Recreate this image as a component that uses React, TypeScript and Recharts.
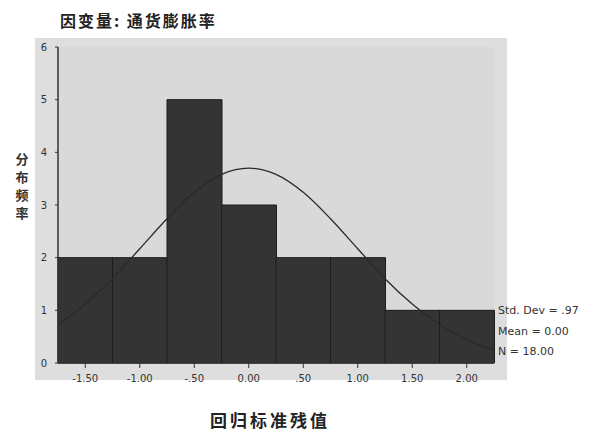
import React from "react";
import { ComposedChart, Bar, Line, XAxis, YAxis, CartesianGrid } from "recharts";

const binLabels = ["-1.50", "-1.00", "-.50", "0.00", ".50", "1.00", "1.50", "2.00"];
const binCounts = [2, 2, 5, 3, 2, 2, 1, 1];
const yTicks = [0, 1, 2, 3, 4, 5, 6];
const curveX = [-1.75, -1.5, -1.25, -1, -0.75, -0.5, -0.25, 0, 0.25, 0.5, 0.75, 1, 1.25, 1.5, 1.75, 2, 2.25];
const curveY = [0.73, 1.12, 1.6, 2.17, 2.74, 3.24, 3.58, 3.7, 3.58, 3.24, 2.74, 2.17, 1.6, 1.12, 0.73, 0.44, 0.25];
const legendLines = ["Std. Dev = .97", "Mean = 0.00", "N = 18.00"];

const barData = binLabels.map((label, i) => ({ label, count: binCounts[i] }));
const curveData = curveX.map((x, i) => ({ x, y: curveY[i] }));

const tickStyle = { fontFamily: "'DejaVu Sans', Verdana, sans-serif", fontSize: 10, fill: "#333" };

export default function App() {
  return (
    <div style={{ position: "absolute", left: 0, top: 0, width: 593, height: 432, background: "#fff", overflow: "hidden" }}>
      <div style={{ position: "absolute", left: 35, top: 38, width: 472, height: 342, background: "#dedede" }} />
      <div
        style={{
          position: "absolute",
          left: 60,
          top: 8,
          fontFamily: "'Noto Sans CJK SC', sans-serif",
          fontWeight: 700,
          fontSize: 16,
          lineHeight: "24px",
          letterSpacing: 2,
          color: "#222",
          whiteSpace: "nowrap",
        }}
      >
        因变量: 通货膨胀率
      </div>
      <div
        style={{
          position: "absolute",
          left: 11,
          top: 150,
          width: 22,
          fontFamily: "'Noto Sans CJK SC', sans-serif",
          fontWeight: 700,
          fontSize: 13,
          lineHeight: "18px",
          color: "#333",
          textAlign: "center",
        }}
      >
        {"分布频率".split("").map((c, i) => (
          <div key={i}>{c}</div>
        ))}
      </div>
      <div
        style={{
          position: "absolute",
          left: 210,
          top: 407,
          fontFamily: "'Noto Sans CJK SC', sans-serif",
          fontWeight: 700,
          fontSize: 17,
          lineHeight: "26px",
          letterSpacing: 3,
          color: "#222",
          whiteSpace: "nowrap",
        }}
      >
        回归标准残值
      </div>
      <div style={{ position: "absolute", left: 0, top: 0 }}>
        <ComposedChart
          width={593}
          height={432}
          data={barData}
          margin={{ top: 47, right: 99, bottom: 44, left: 30 }}
          barCategoryGap={0}
          barGap={0}
        >
          <CartesianGrid horizontal={false} vertical={false} fill="#d9d9d9" />
          <XAxis
            dataKey="label"
            xAxisId="cat"
            interval={0}
            tick={tickStyle}
            tickSize={5}
            tickMargin={7}
            tickLine={{ stroke: "#333" }}
            axisLine={{ stroke: "#333", strokeWidth: 1.5 }}
            height={25}
          />
          <XAxis
            xAxisId="top"
            orientation="top"
            dataKey="label"
            tick={false}
            tickLine={false}
            axisLine={{ stroke: "#444", strokeWidth: 1.5 }}
            height={0}
          />
          <XAxis xAxisId="num" type="number" dataKey="x" domain={[-1.75, 2.25]} hide allowDataOverflow />
          <YAxis
            domain={[0, 6]}
            ticks={yTicks}
            interval={0}
            tick={tickStyle}
            tickSize={3}
            tickMargin={8}
            tickLine={{ stroke: "#333" }}
            axisLine={{ stroke: "#333", strokeWidth: 1.5 }}
            width={28}
          />
          <YAxis
            yAxisId="right"
            orientation="right"
            domain={[0, 6]}
            tick={false}
            tickLine={false}
            axisLine={{ stroke: "#444", strokeWidth: 1.5 }}
            width={0}
          />
          <Bar
            dataKey="count"
            xAxisId="cat"
            fill="#343434"
            stroke="#1c1c1c"
            strokeWidth={1}
            isAnimationActive={false}
          />
          <Line
            data={curveData}
            dataKey="y"
            xAxisId="num"
            type="monotone"
            stroke="#2a2a2a"
            strokeWidth={1.3}
            dot={false}
            isAnimationActive={false}
          />
        </ComposedChart>
      </div>
      {legendLines.map((t, i) => (
        <div
          key={i}
          style={{
            position: "absolute",
            left: 498,
            top: 303 + i * 20.5,
            fontFamily: "'DejaVu Sans', Verdana, sans-serif",
            fontSize: 11,
            lineHeight: "16px",
            color: "#333",
            whiteSpace: "nowrap",
          }}
        >
          {t}
        </div>
      ))}
    </div>
  );
}
